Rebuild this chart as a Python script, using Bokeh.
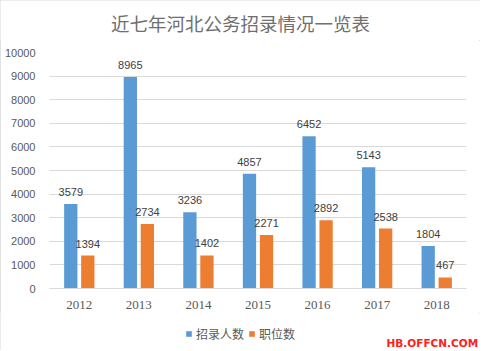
from bokeh.plotting import figure
from bokeh.models import ColumnDataSource, Legend, LegendItem, Label, FactorRange
from bokeh.layouts import column
from bokeh.transform import dodge
from bokeh.core.properties import value
from bokeh.embed import file_html
from bokeh.resources import INLINE

years = ["2012", "2013", "2014", "2015", "2016", "2017", "2018"]
recruits = [3579, 8965, 3236, 4857, 6452, 5143, 1804]
positions = [1394, 2734, 1402, 2271, 2892, 2538, 467]
y_ticks = [0, 1000, 2000, 3000, 4000, 5000, 6000, 7000, 8000, 9000, 10000]
series_names = ["招录人数", "职位数"]
title_text = "近七年河北公务招录情况一览表"
watermark = "HB.OFFCN.COM"

BLUE = "#5B9BD5"
ORANGE = "#ED7D31"
W = 480


def strip(height):
    f = figure(width=W, height=height, x_range=(0, W), y_range=(0, height),
               output_backend="svg", toolbar_location=None,
               min_border=0, min_border_left=0, min_border_right=0,
               min_border_top=0, min_border_bottom=0)
    f.frame_align = False
    f.axis.visible = False
    f.grid.visible = False
    f.outline_line_color = None
    f.background_fill_color = "white"
    f.border_fill_color = "white"
    return f


# ---- title strip
top = strip(40)
top.add_layout(Label(x=240, y=18, x_units="screen", y_units="screen", text=title_text,
                     text_align="center", text_baseline="middle",
                     text_font="Noto Sans CJK SC", text_font_size="18.5px",
                     text_color="#6f6f6f"))

# ---- main chart
src = ColumnDataSource(dict(
    year=years, recruits=recruits, positions=positions,
    rl=[str(v) for v in recruits], pl=[str(v) for v in positions],
))

p = figure(width=W, height=272, x_range=FactorRange(*years), y_range=(0, 10000),
           output_backend="svg", toolbar_location=None,
           min_border_left=49, min_border_right=14, min_border_top=12, min_border_bottom=24)
p.background_fill_color = "white"
p.border_fill_color = "white"
p.outline_line_color = None
p.frame_align = False

off = 0.143
w = 0.223
p.vbar(x=dodge("year", -off, range=p.x_range), top="recruits", width=w, source=src,
       fill_color=BLUE, line_color=None)
p.vbar(x=dodge("year", off, range=p.x_range), top="positions", width=w, source=src,
       fill_color=ORANGE, line_color=None)

p.text(x=dodge("year", -off, range=p.x_range), y="recruits", text="rl", source=src,
       text_align="center", text_baseline="bottom", y_offset=-8,
       text_font=value("Liberation Sans"), text_font_size="11px", text_color="#404040")
p.text(x=dodge("year", off, range=p.x_range), y="positions", text="pl", source=src,
       text_align="center", text_baseline="bottom", y_offset=-8,
       text_font=value("Liberation Sans"), text_font_size="11px", text_color="#404040")

p.yaxis.ticker = y_ticks
p.yaxis.axis_line_color = None
p.yaxis.major_tick_line_color = None
p.yaxis.minor_tick_line_color = None
p.yaxis.major_label_text_font = "Liberation Sans"
p.yaxis.major_label_text_font_size = "11px"
p.yaxis.major_label_text_color = "#595959"
p.yaxis.major_label_standoff = 8

p.xaxis.axis_line_color = "#d9d9d9"
p.xaxis.major_tick_line_color = None
p.xaxis.minor_tick_line_color = None
p.xaxis.major_label_text_font = "Liberation Serif"
p.xaxis.major_label_text_font_size = "13px"
p.xaxis.major_label_text_color = "#595959"
p.xaxis.major_label_standoff = 6

p.xgrid.grid_line_color = None
p.ygrid.grid_line_color = "#d9d9d9"
p.x_range.range_padding = 0

# ---- legend + watermark strip
s = strip(38)
swatch = ColumnDataSource(dict(x=[-1000], top=[0]))
g1 = s.vbar(x="x", top="top", width=1, source=swatch, fill_color=BLUE, line_color=None)
g2 = s.vbar(x="x", top="top", width=1, source=swatch, fill_color=ORANGE, line_color=None)

legend = Legend(items=[LegendItem(label=series_names[0], renderers=[g1]),
                       LegendItem(label=series_names[1], renderers=[g2])],
                orientation="horizontal", location=(185, 8),
                glyph_width=7, glyph_height=7, label_standoff=4, spacing=4,
                padding=0, margin=0, border_line_color=None, background_fill_alpha=0,
                label_text_font="Noto Sans CJK SC", label_text_font_size="12px",
                label_text_color="#595959")
s.add_layout(legend)

s.add_layout(Label(x=386, y=2, x_units="screen", y_units="screen", text=watermark,
                   text_font="DejaVu Sans", text_font_style="bold", text_font_size="10.5px",
                   text_color="#ff2020", text_baseline="bottom"))

layout = column(top, p, s, spacing=0)
layout.styles = {"outline": "1px solid #d9d9d9", "outline-offset": "-1px"}
open("out.html", "w").write(file_html(layout, INLINE))
